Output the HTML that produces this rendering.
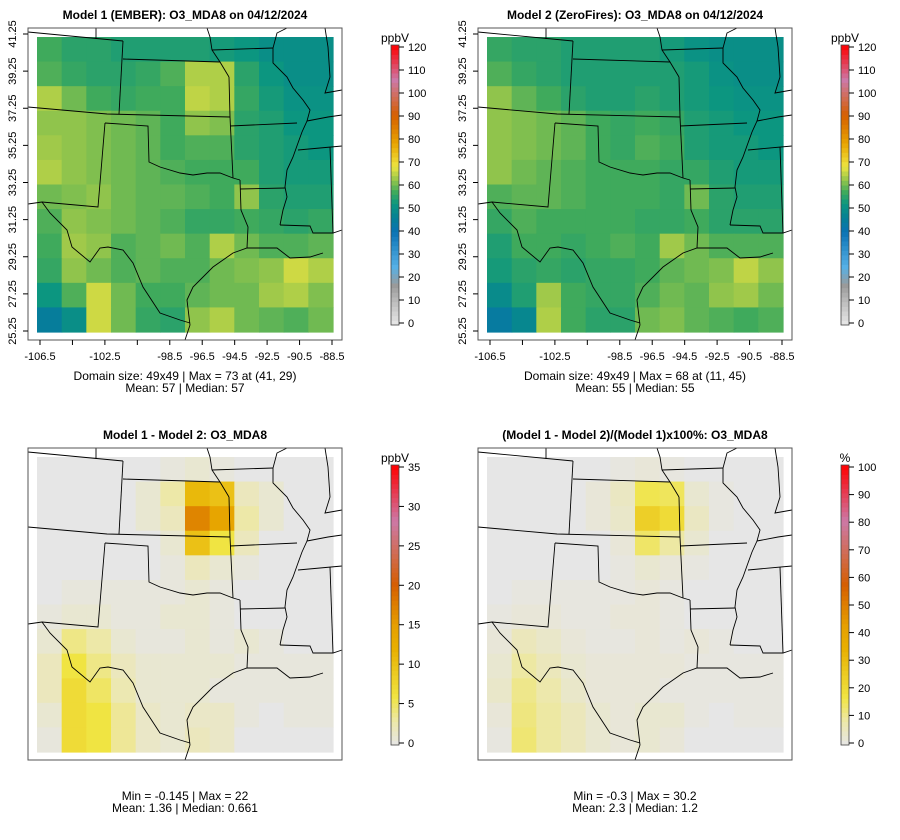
<!DOCTYPE html>
<html><head><meta charset="utf-8">
<style>
html,body{margin:0;padding:0;background:#fff;}
svg{display:block;font-family:"Liberation Sans",Arial,sans-serif;}
</style></head>
<body>
<svg id="chart" width="900" height="840" viewBox="0 0 900 840" xmlns="http://www.w3.org/2000/svg"></svg>
<script>
// ---- data (12x12 coarse grids, north row first) ----
const model1 = [
[57,55,55,54,54,54,54,53,52,50,50,50],
[58,56,55,55,56,58,64,64,55,52,50,50],
[64,60,57,56,57,57,65,64,56,53,51,51],
[62,62,61,60,59,57,62,61,55,54,52,52],
[63,62,61,60,59,57,58,58,55,54,53,52],
[64,62,61,60,59,58,57,57,57,54,53,53],
[60,61,62,60,59,59,58,57,62,55,54,54],
[58,62,61,60,59,58,56,56,57,56,55,56],
[57,63,62,58,59,60,58,64,60,58,58,59],
[56,62,60,58,59,58,58,60,61,62,66,64],
[52,58,66,60,57,57,59,60,60,63,64,61],
[45,50,66,60,56,55,62,64,60,59,58,60]];
const model2 = [
[56,55,55,54,54,54,54,53,51,50,50,50],
[58,56,55,54,54,54,54,54,53,51,50,50],
[62,59,57,55,54,54,55,54,53,52,51,51],
[62,61,60,59,57,56,57,56,54,53,52,52],
[62,61,60,59,57,56,58,57,54,53,53,52],
[62,60,59,58,57,57,57,56,56,54,53,53],
[58,59,59,58,57,57,57,56,60,55,54,54],
[56,58,57,57,57,57,56,56,57,55,55,55],
[54,57,57,56,57,58,57,63,60,58,58,58],
[53,55,56,55,56,56,57,59,60,61,65,62],
[49,54,63,57,56,56,58,60,59,62,63,60],
[44,48,64,57,55,55,60,61,59,58,57,58]];
const diffAbs = [
[0,0,0,0,0,0.5,1,0.5,0,0,0,0],
[0,0,0,0,1,3,11,10,2,1,0,0],
[0,0,0,0,1,2,17,14,3,1,0,0],
[0,0,0,0,0,1,10,6,2,0,0,0],
[0,0,0,0,0,0.5,2,1,0.5,0,0,0],
[0,0.5,0.5,0.5,0.5,0.5,1,0.5,0,0,0,0],
[0.5,1,1,0.5,0.5,1,1,0.5,0,0,0,0],
[1,4,3,1,0.5,0.5,1,0.5,1,0.5,0,0],
[2,6,4,2,1,1,1,1,0.5,0.5,0.5,0.5],
[2,7,5,2.5,1,1,1,0.5,0.5,0.5,0.5,0.5],
[1,7,6,3.5,1.5,1,1.5,1.5,0.5,0,0.5,0.5],
[0.5,7,6,3.5,1.5,1,2,1.5,0,0,0,0]];
const diffPct = [
[0,0,0,0,0,1,2,1,0,0,0,0],
[0,0,0,0,2,5,16,15,3,1,0,0],
[0,0,0,0,2,4,24,20,5,1,0,0],
[0,0,0,0,0,2,14,9,3,0,0,0],
[0,0,0,0,0,1,3,2,1,0,0,0],
[0,1,1,1,1,1,2,1,0,0,0,0],
[1,2,2,1,1,2,2,1,0,0,0,0],
[2,6,4,2,1,1,2,1,2,1,0,0],
[3,9,6,3,2,2,2,2,1,1,1,1],
[4,11,8,4,2,2,2,1,1,1,1,1],
[2,12,9,6,3,2,3,3,1,0,1,1],
[1,13,9,6,3,2,3,2,0,0,0,0]];
const xTickVals = [-106.5,-104.5,-102.5,-100.5,-98.5,-96.5,-94.5,-92.5,-90.5,-88.5];
const xTickLabels = ["-106.5","","-102.5","","-98.5","-96.5","-94.5","-92.5","-90.5","-88.5"];
const yTickVals = [25.25,27.25,29.25,31.25,33.25,35.25,37.25,39.25,41.25];
const cbO3Ticks = [0,10,20,30,40,50,60,70,80,90,100,110,120];
const cbDiffTicks = [0,5,10,15,20,25,30,35];
const cbPctTicks = [0,10,20,30,40,50,60,70,80,90,100];

const NS="http://www.w3.org/2000/svg";
const svg=document.getElementById('chart');
function el(tag,attrs,parent){const e=document.createElementNS(NS,tag);for(const k in attrs)e.setAttribute(k,attrs[k]);(parent||svg).appendChild(e);return e;}
function hex(h){return [parseInt(h.substr(1,2),16),parseInt(h.substr(3,2),16),parseInt(h.substr(5,2),16)];}
function ramp(stops,v){
  if(v<=stops[0][0])return stops[0][1];
  for(let i=1;i<stops.length;i++){if(v<=stops[i][0]){const a=stops[i-1],b=stops[i];const t=(v-a[0])/(b[0]-a[0]);const c1=hex(a[1]),c2=hex(b[1]);return 'rgb('+c1.map((c,k)=>Math.round(c+(c2[k]-c)*t)).join(',')+')';}}
  return stops[stops.length-1][1];
}
const o3Stops=[[0,"#e8e8e8"],[10,"#bdbdbd"],[17,"#9a9a9a"],[25,"#56b0e6"],[40,"#0a72b4"],[46,"#057f96"],[52,"#0c9680"],[57,"#3faa5c"],[62,"#90c44c"],[68,"#ede440"],[78,"#e8a400"],[90,"#d55e00"],[105,"#cc79a7"],[120,"#ff0000"]];
const diffStops=[[0,"#e6e6e6"],[3,"#ede8a8"],[6,"#f0e442"],[12,"#e8b000"],[15,"#e69f00"],[20,"#d55e00"],[28,"#cc79a7"],[35,"#ff0000"]];
const pctStops=diffStops.map(s=>[s[0]*100/35,s[1]]);

const borders=[
"M28,32L123,41","M96,28L96,39","M123,41L119,114","M123,59L220,62L229,77","M207,28L210,37L212,50L220,62",
"M212,50L273,48","M287,28L277,33L273,48L273,63L287,77L293,88L303,100L310,110L307,121L302,132L298,143L293,157L287,170L285,187L287,197L283,210L280,225",
"M28,107L107,114L230,117","M229,77L230,117L233,178","M105,123L148,126L149,162L160,167L180,173L193,175L207,173L220,173L233,178L240,180",
"M230,126L297,123","M240,189L285,188","M240,180L241,210L248,227L247,248","M280,225L310,226L313,233L333,233L342,230",
"M330,147L333,233","M298,150L342,146","M307,121L328,117L342,115","M325,28L328,47L330,77L325,93L342,90",
"M28,204L42,202L98,207L105,123","M42,202L50,213L67,230L72,247L90,262L100,248L108,247L123,250L133,263L143,287L160,313L180,320L190,323",
"M190,325L187,300L193,287L213,267L233,253L247,248L277,248L290,258L310,257L323,253","M190,325L185,340"];

function panel(ox,oy,grid,stops,vmax,ticks,unit,title,stats,axes,nm){
  const g=el('g',{},svg);
  
  
  const t=el('text',{x:ox+185,y:oy+19,'text-anchor':'middle','font-size':12,'font-weight':'bold',fill:'#000'},g);
  t.textContent=title;
  
  
  const x0=ox+37,y0=oy+37,W=296,H=295,n=grid.length,m=grid[0].length;
  const cw=W/m,ch=H/n;
  for(let r=0;r<n;r++)for(let c=0;c<m;c++){
    const rc=el('rect',{x:(x0+c*cw).toFixed(2),y:(y0+r*ch).toFixed(2),width:(cw+0.6).toFixed(2),height:(ch+0.6).toFixed(2),fill:ramp(stops,grid[r][c])},g);
    
    
  }
  const bg=el('g',{transform:'translate('+ox+','+oy+')',fill:'none',stroke:'#000','stroke-width':0.9},g);
  
  
  borders.forEach(d=>el('path',{d:d},bg));
  const box=el('rect',{x:ox+28,y:oy+28,width:314,height:312,fill:'none',stroke:'#555','stroke-width':1},g);
  
  
  if(axes){
    const xs=v=>ox+40+(v+106.5)/18*292;
    const ys=v=>oy+331-(v-25.25)/16*297;
    xTickVals.forEach((v,i)=>{
      el('line',{x1:xs(v),x2:xs(v),y1:oy+340,y2:oy+345,stroke:'#000'},g);
      if(xTickLabels[i]){const tx=el('text',{x:xs(v),y:oy+360,'text-anchor':'middle','font-size':11},g);tx.textContent=xTickLabels[i];
        
        }
    });
    yTickVals.forEach(v=>{
      el('line',{x1:ox+23,x2:ox+28,y1:ys(v),y2:ys(v),stroke:'#000'},g);
      const ty=el('text',{x:ox+16,y:ys(v),'text-anchor':'middle','font-size':11,transform:'rotate(-90 '+(ox+16)+' '+ys(v)+')'},g);ty.textContent=v.toFixed(2);
      
      
    });
  }
  stats.forEach((s,i)=>{const st=el('text',{x:ox+185,y:oy+380+i*12,'text-anchor':'middle','font-size':12},g);st.textContent=s;
    
    });
  // colorbar
  const cx=ox+391,ct=oy+45,cb=oy+325,N=60;
  for(let i=0;i<N;i++){
    const v=(i+0.5)/N*vmax;
    el('rect',{x:cx,y:cb-(i+1)*(cb-ct)/N,width:8,height:(cb-ct)/N+0.5,fill:ramp(stops,v)},g);
  }
  const cbf=el('rect',{x:cx,y:ct,width:8,height:cb-ct,fill:'none',stroke:'#444','stroke-width':0.8},g);
  
  
  ticks.forEach(v=>{const yy=cb-2-(v/vmax)*(cb-ct-4);
    el('line',{x1:cx+8,x2:cx+13,y1:yy,y2:yy,stroke:'#000'},g);
    const tl=el('text',{x:cx+17,y:yy+4,'font-size':11},g);tl.textContent=v;
    
    });
  const ul=el('text',{x:cx+4,y:ct-3,'text-anchor':'middle','font-size':12},g);ul.textContent=unit;
  
  
}
panel(0,0,model1,o3Stops,120,cbO3Ticks,'ppbV','Model 1 (EMBER): O3_MDA8 on 04/12/2024',['Domain size: 49x49 | Max = 73 at (41, 29)','Mean: 57 |  Median: 57'],true,'model1');
panel(450,0,model2,o3Stops,120,cbO3Ticks,'ppbV','Model 2 (ZeroFires): O3_MDA8 on 04/12/2024',['Domain size: 49x49 | Max = 68 at (11, 45)','Mean: 55 |  Median: 55'],true,'model2');
panel(0,420,diffAbs,diffStops,35,cbDiffTicks,'ppbV','Model 1 - Model 2: O3_MDA8',['Min = -0.145 | Max = 22','Mean: 1.36 |  Median: 0.661'],false,'diff-abs');
panel(450,420,diffPct,pctStops,100,cbPctTicks,'%','(Model 1 - Model 2)/(Model 1)x100%: O3_MDA8',['Min = -0.3 | Max = 30.2','Mean: 2.3 |  Median: 1.2'],false,'diff-pct');
</script>
</body></html>
